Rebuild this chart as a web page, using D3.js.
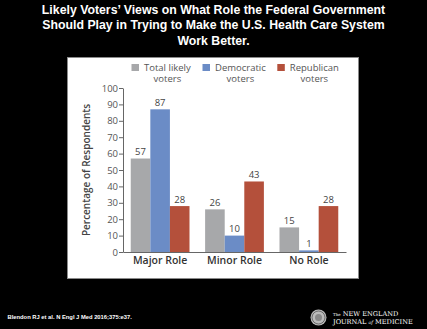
<!DOCTYPE html>
<html>
<head>
<meta charset="utf-8">
<script src="https://cdn.jsdelivr.net/npm/d3@7"></script>
<style>
  body { margin: 0; background: #000; }
  svg { display: block; }
</style>
</head>
<body>
<div id="chart"></div>
<script>
var titleLines = ["Likely Voters\u2019 Views on What Role the Federal Government",
                  "Should Play in Trying to Make the U.S. Health Care System",
                  "Work Better."],
    roles = ["Major Role", "Minor Role", "No Role"],
    groups = ["total", "dem", "rep"],
    legendLabels = [["Total likely", "voters"], ["Democratic", "voters"], ["Republican", "voters"]],
    totalVals = [57, 26, 15],
    demVals = [87, 10, 1],
    repVals = [28, 43, 28],
    yTicks = [0, 10, 20, 30, 40, 50, 60, 70, 80, 90, 100],
    colors = ["#a7a8aa", "#6b8cc6", "#b4503b"],
    citation = "Blendon RJ et al. N Engl J Med 2016;375:e37.";

var W = 427, H = 329;

var svg = d3.select("#chart").append("svg").attr("width", W).attr("height", H);
svg.append("rect").attr("width", W).attr("height", H).attr("fill", "#000");

// title
svg.append("g").selectAll("text").data(titleLines).enter().append("text")
  .attr("x", W / 2).attr("y", (d, i) => 13.5 + i * 15.5)
  .attr("text-anchor", "middle")
  .attr("fill", "#fff")
  .style("font", "bold 12.3px 'Liberation Sans', Arial, sans-serif")
  .text(d => d);

// white panel
svg.append("rect").attr("x", 67.5).attr("y", 57.5).attr("width", 291).attr("height", 221)
  .attr("fill", "#fff").attr("stroke", "#8a8a8a").attr("stroke-width", 1);

var data = roles.map((r, i) => ({role: r, values: [totalVals[i], demVals[i], repVals[i]]}));

var x0 = d3.scaleBand().domain(roles).range([123, 346]).paddingInner(0.21).paddingOuter(0.104);
var x1 = d3.scaleBand().domain(groups).range([0, x0.bandwidth()]);
var y = d3.scaleLinear().domain([0, 100]).range([252, 88]);

var font = "'Open Sans', 'Noto Sans', sans-serif";

// y axis
var yAxis = svg.append("g").attr("transform", "translate(123,0)")
  .call(d3.axisLeft(y).tickValues(yTicks).tickSize(4).tickSizeOuter(0));
yAxis.select(".domain").attr("stroke", "#666");
yAxis.selectAll(".tick line").attr("stroke", "#666");
yAxis.selectAll("text").attr("fill", "#555").attr("x", -5)
  .style("font", "9.5px " + font);

// bars
var g = svg.append("g").selectAll("g").data(data).enter().append("g")
  .attr("transform", d => "translate(" + x0(d.role) + ",0)");

g.selectAll("rect").data(d => d.values).enter().append("rect")
  .attr("x", (d, i) => x1(groups[i]))
  .attr("width", x1.bandwidth())
  .attr("y", d => y(d))
  .attr("height", d => y(0) - y(d))
  .attr("fill", (d, i) => colors[i]);

g.selectAll("text").data(d => d.values).enter().append("text")
  .attr("x", (d, i) => x1(groups[i]) + x1.bandwidth() / 2)
  .attr("y", d => y(d) - 3.5)
  .attr("text-anchor", "middle")
  .attr("fill", "#444")
  .style("font", "9.5px " + font)
  .text(d => d);

// x axis baseline
var xAxis = svg.append("g").attr("transform", "translate(0,252)")
  .call(d3.axisBottom(x0).tickSize(0).tickSizeOuter(0).tickPadding(5));
xAxis.select(".domain").attr("stroke", "#666");
xAxis.selectAll("text").attr("fill", "#333")
  .style("font", "600 10.5px " + font);

// y label
svg.append("text")
  .attr("transform", "translate(90,170) rotate(-90)")
  .attr("text-anchor", "middle")
  .attr("fill", "#444")
  .style("font", "600 10px " + font)
  .text("Percentage of Respondents");

// legend
var legendX = [131.5, 202.5, 277.3];
var lg = svg.append("g").selectAll("g").data(legendLabels).enter().append("g")
  .attr("transform", (d, i) => "translate(" + legendX[i] + ",64)");
lg.append("rect").attr("width", 7.5).attr("height", 7).attr("fill", (d, i) => colors[i]);
lg.append("text").attr("x", 12.5).attr("y", 6.5).attr("fill", "#555")
  .style("font", "9.5px " + font).text(d => d[0]);
lg.append("text").attr("x", 12.5).attr("y", 18).attr("fill", "#555")
  .style("font", "9.5px " + font)
  .each(function (d) {
    var w0 = this.parentNode.querySelector("text").getComputedTextLength();
    d3.select(this).attr("x", 12.5 + w0 / 2).attr("text-anchor", "middle");
  })
  .text(d => d[1]);

// footer
svg.append("text").attr("x", 7.5).attr("y", 319).attr("fill", "#fff")
  .style("font", "bold 5.8px 'Liberation Sans', Arial, sans-serif")
  .text(citation);

// NEJM logo
var logo = svg.append("g").attr("transform", "translate(318.5,317.5)");
logo.append("circle").attr("r", 8).attr("fill", "#bbb");
logo.append("circle").attr("r", 6.5).attr("fill", "none").attr("stroke", "#333").attr("stroke-width", 0.6);
logo.append("circle").attr("r", 3.5).attr("fill", "#888");
svg.append("text").attr("x", 333).attr("y", 315.5).attr("fill", "#fff")
  .style("font", "6.6px 'DejaVu Serif', 'Liberation Serif', serif")
  .html("<tspan style='font-size:4px'>The</tspan> NEW ENGLAND");
svg.append("text").attr("x", 333).attr("y", 323.5).attr("fill", "#fff")
  .style("font", "6.6px 'DejaVu Serif', 'Liberation Serif', serif")
  .html("JOURNAL <tspan style='font-style:italic;font-size:4.5px'>of</tspan> MEDICINE");
</script>
</body>
</html>
